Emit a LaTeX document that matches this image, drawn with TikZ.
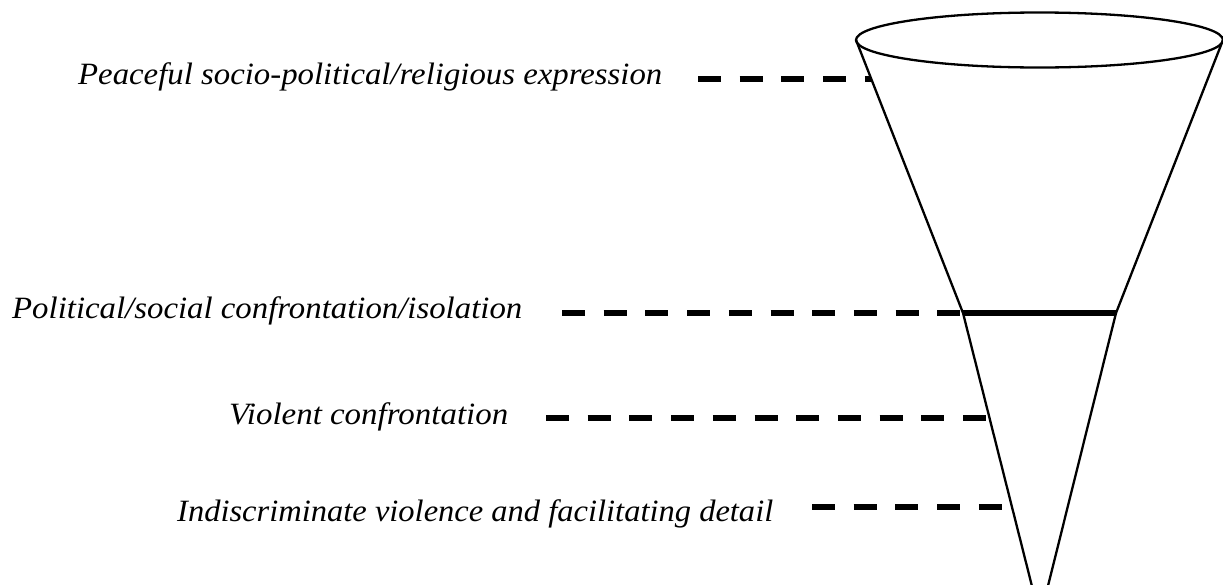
\documentclass[tikz,border=0pt]{standalone}
\usepackage{fontspec}
\setmainfont{Liberation Serif}
\usetikzlibrary{calc}
\newcommand\fitw[2]{\resizebox{#1}{\height}{#2}}
\begin{document}
\begin{tikzpicture}[x=1pt,y=-1pt,
  funnel/.style={line width=2.3pt, line join=round},
  levelline/.style={line width=5.5pt},
  dashline/.style={line width=5.5pt, dash pattern=on 23pt off 18.7pt},
  lab/.style={anchor=base west, inner sep=0pt, font=\fontsize{31}{33}\selectfont\itshape}]
\useasboundingbox (0,0) rectangle (1223,584);
\clip (0,0) rectangle (1223,584);
% funnel geometry
\coordinate (C)  at (1039.5,40);
\coordinate (TL) at (856,40);
\coordinate (TR) at (1223,40);
\coordinate (ML) at (963,313);
\coordinate (MR) at (1116,313);
\coordinate (tip) at (1040,618);
\draw[funnel] (C) ellipse [x radius=183.5pt, y radius=27.5pt];
\draw[funnel] (TL) -- (ML) -- (tip) -- (MR) -- (TR);
\draw[levelline] (ML) -- (MR);
% labels
\node[lab] (t1) at (78,84)  {\fitw{584pt}{Peaceful socio-political/religious expression}};
\node[lab] (t2) at (12,318) {\fitw{510pt}{Political/social confrontation/isolation}};
\node[lab] (t3) at (229,424) {\fitw{279pt}{Violent confrontation}};
\node[lab] (t4) at (177,521) {\fitw{596pt}{Indiscriminate violence and facilitating detail}};
% connector ends
\coordinate (s1) at (698,79);
\coordinate (e1) at ($(TL)!{39/273}!(ML)$);
\coordinate (s2) at (562,313);
\coordinate (s3) at (546,418);
\coordinate (e3) at ($(ML)!{105/305}!(tip)$);
\coordinate (s4) at (812,507);
\coordinate (e4) at ($(ML)!{194/305}!(tip)$);
\draw[dashline] (s1) -- (s1 -| e1);
\draw[dashline] (s2) -- (ML);
\draw[dashline] (s3) -- (s3 -| e3);
\draw[dashline] (s4) -- (s4 -| e4);
\end{tikzpicture}
\end{document}
